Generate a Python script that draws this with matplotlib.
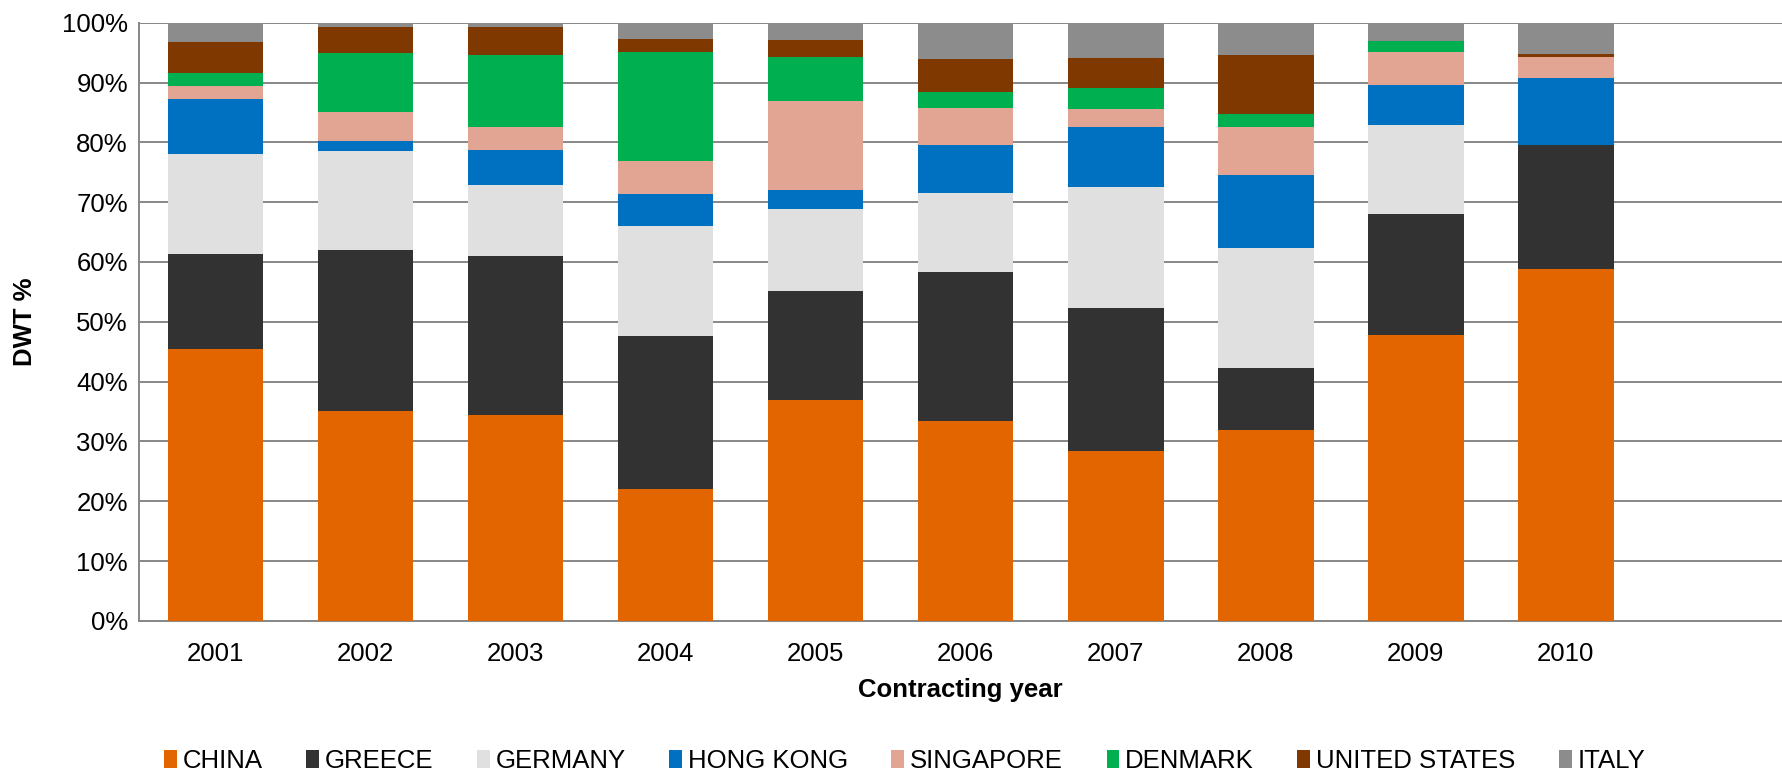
import matplotlib
matplotlib.use("Agg")
import matplotlib.pyplot as plt
import numpy as np

years = ["2001", "2002", "2003", "2004", "2005", "2006", "2007", "2008", "2009", "2010"]
countries = ["CHINA", "GREECE", "GERMANY", "HONG KONG", "SINGAPORE", "DENMARK", "UNITED STATES", "ITALY"]

china         = [45.5, 35.1, 34.4, 22.0, 36.9, 33.5, 28.4, 32.0, 47.8, 58.9]
greece        = [15.8, 26.9, 26.6, 25.7, 18.3, 24.8, 23.9, 10.2, 20.2, 20.7]
germany       = [16.7, 16.5, 11.9, 18.3, 13.6, 13.3, 20.2, 20.2, 14.9, 0.0]
hong_kong     = [9.2, 1.8, 5.8, 5.4, 3.2, 8.0, 10.1, 12.2, 6.7, 11.2]
singapore     = [2.2, 4.8, 3.8, 5.4, 14.9, 6.2, 3.0, 7.9, 5.5, 3.5]
denmark       = [2.2, 9.8, 12.1, 18.3, 7.3, 2.6, 3.5, 2.2, 1.9, 0.0]
united_states = [5.1, 4.4, 4.6, 2.1, 2.9, 5.6, 5.0, 9.9, 0.0, 0.4]
italy         = [3.3, 0.8, 0.8, 2.8, 2.9, 6.0, 6.0, 5.4, 3.0, 5.4]

series = [china, greece, germany, hong_kong, singapore, denmark, united_states, italy]
colors = ["#E26500", "#323232", "#E0E0E0", "#0070C0", "#E2A594", "#00AF50", "#7E3800", "#8C8C8C"]

plt.rcParams['font.family'] = ['Liberation Sans', 'DejaVu Sans']
FS = 18.5

fig = plt.figure(figsize=(17.82, 7.74), dpi=100)
ax = fig.add_axes([0.078, 0.1977, 0.922, 0.773])

x = np.arange(len(years))
bottom = np.zeros(len(years))
handles = []
for name, vals, col in zip(countries, series, colors):
    v = np.array(vals)
    b = ax.bar(x, v, width=0.636, bottom=bottom, color=col, label=name, zorder=3,
               edgecolor=col, linewidth=0)
    handles.append(b)
    bottom += v

ax.set_xlim(-0.51, 10.44)
ax.set_ylim(0, 100)
ax.set_yticks(np.arange(0, 101, 10))
ax.set_yticklabels([f"{t}%" for t in range(0, 101, 10)])
ax.set_xticks(x)
ax.set_xticklabels(years)
ax.tick_params(axis='both', length=0, labelsize=FS, colors='black')
ax.tick_params(axis='x', pad=15)
ax.tick_params(axis='y', pad=8)

ax.yaxis.grid(True, color='#878787', linewidth=1.4, zorder=0)
ax.set_axisbelow(True)
for s in ['top', 'right']:
    ax.spines[s].set_visible(False)
for s in ['left', 'bottom']:
    ax.spines[s].set_color('#878787')
    ax.spines[s].set_linewidth(1.4)

ax.set_ylabel("DWT %", fontsize=FS, fontweight='bold', va='center')
ax.yaxis.set_label_coords(-0.0694, 0.5)
ax.set_xlabel("Contracting year", fontsize=FS, fontweight='bold', va='center')
ax.xaxis.set_label_coords(0.5, -0.115)

fig.legend(handles=handles, labels=countries, loc='center', bbox_to_anchor=(0.5076, 0.017),
           ncol=8, frameon=False, fontsize=FS, handlelength=0.5, handleheight=0.7,
           handletextpad=0.22, columnspacing=1.7, borderaxespad=0)

fig.savefig("out.png", dpi=100)
